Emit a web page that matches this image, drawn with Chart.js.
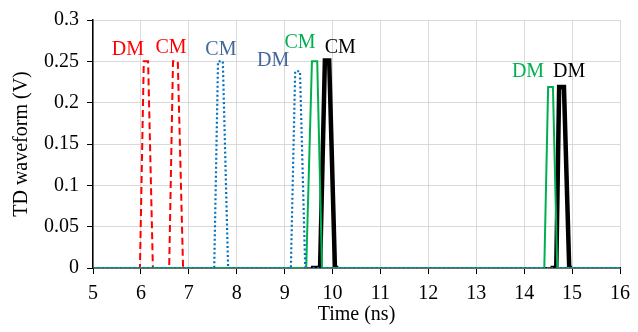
<!DOCTYPE html>
<html lang="en">
<head>
  <meta charset="UTF-8">
  <title>TD waveform</title>
  <script src="https://cdn.jsdelivr.net/npm/chart.js"></script>
  <style>
    body {
      margin: 0;
      padding: 0;
      background: #fff;
    }
    .chart-box {
      width: 638px;
      height: 332px;
    }
  </style>
</head>
<body>
  <div class="chart-box">
    <canvas id="waveChart"></canvas>
  </div>

  <script>
    // time (ns) / voltage (V) pairs
    const redTime = [5, 5.98, 6.06, 6.15, 6.25, 6.59, 6.67, 6.77, 6.88, 16];
    const redVolt = [0, 0, 0.25, 0.25, 0, 0, 0.25, 0.25, 0, 0];

    const blueTime = [5, 7.53, 7.61, 7.71, 7.82, 9.13, 9.22, 9.32, 9.43, 16];
    const blueVolt = [0, 0, 0.25, 0.25, 0, 0, 0.238, 0.238, 0, 0];

    const greenTime = [5, 9.45, 9.57, 9.68, 9.78, 14.42, 14.5, 14.6, 14.69, 16];
    const greenVolt = [0, 0, 0.25, 0.25, 0, 0, 0.219, 0.219, 0, 0];

    // black trace only shows near its own pulses (null = gap)
    const blackTime = [9.55, 9.74, 9.84, 9.93, 10.05, 10.12, 12, 14.55, 14.67, 14.73, 14.83, 14.94, 15.0];
    const blackVolt = [0, 0, 0.251, 0.251, 0, 0, null, 0, 0, 0.219, 0.219, 0, 0];

    const xTicks = [5, 6, 7, 8, 9, 10, 11, 12, 13, 14, 15, 16];
    const yTicks = [0, 0.05, 0.1, 0.15, 0.2, 0.25, 0.3];

    // pulse labels
    const labelText = ["DM", "CM", "CM", "DM", "CM", "CM", "DM", "DM"];
    const labelTime = [5.73, 6.63, 7.67, 8.76, 9.32, 10.16, 14.08, 14.94];
    const labelVolt = [0.264, 0.267, 0.264, 0.251, 0.272, 0.267, 0.237, 0.237];
    const labelColor = ["#ff0000", "#ff0000", "#44689a", "#44689a", "#00b050", "#000000", "#00b050", "#000000"];

    const serif = "'Liberation Serif', 'Times New Roman', serif";

    function pairs(xs, ys) {
      return xs.map((x, i) => ({ x: x, y: ys[i] }));
    }

    const pulseLabels = {
      id: "pulseLabels",
      afterDatasetsDraw(chart) {
        const ctx = chart.ctx;
        const xs = chart.scales.x;
        const ys = chart.scales.y;
        ctx.save();
        ctx.font = "20px " + serif;
        ctx.textAlign = "center";
        ctx.textBaseline = "middle";
        labelText.forEach((t, i) => {
          ctx.fillStyle = labelColor[i];
          ctx.fillText(t, xs.getPixelForValue(labelTime[i]), ys.getPixelForValue(labelVolt[i]));
        });
        ctx.restore();
      }
    };

    const ctx = document.getElementById("waveChart").getContext("2d");
    new Chart(ctx, {
      type: "line",
      data: {
        datasets: [
          {
            label: "red",
            data: pairs(redTime, redVolt),
            borderColor: "#ff0000",
            borderWidth: 2,
            borderDash: [7, 4],
            order: 4
          },
          {
            label: "black",
            data: pairs(blackTime, blackVolt),
            borderColor: "#000000",
            borderWidth: 4.5,
            spanGaps: false,
            order: 3
          },
          {
            label: "green",
            data: pairs(greenTime, greenVolt),
            borderColor: "#00b050",
            borderWidth: 2,
            order: 2
          },
          {
            label: "blue",
            data: pairs(blueTime, blueVolt),
            borderColor: "#0070c0",
            borderWidth: 2.2,
            borderDash: [2, 2.5],
            order: 1
          }
        ]
      },
      options: {
        responsive: true,
        maintainAspectRatio: false,
        animation: false,
        elements: {
          point: { radius: 0 },
          line: { tension: 0, fill: false }
        },
        layout: {
          padding: { top: 17, right: 18, left: 0, bottom: 0 }
        },
        plugins: {
          legend: { display: false },
          tooltip: { enabled: false }
        },
        scales: {
          x: {
            type: "linear",
            min: 5,
            max: 16,
            afterBuildTicks: (s) => { s.ticks = xTicks.map(v => ({ value: v })); },
            afterFit: (s) => { s.height = 64; },
            grid: {
              color: "#d9d9d9",
              tickColor: "#000",
              tickLength: 6,
              lineWidth: 1
            },
            border: { color: "#000", width: 1.5 },
            ticks: {
              color: "#000",
              font: { family: serif, size: 20 },
              padding: 8,
              maxRotation: 0
            },
            title: {
              display: true,
              text: "Time (ns)",
              color: "#000",
              font: { family: serif, size: 20 },
              padding: { top: 0, bottom: 5 }
            }
          },
          y: {
            type: "linear",
            min: 0,
            max: 0.3,
            afterBuildTicks: (s) => { s.ticks = yTicks.map(v => ({ value: v })); },
            afterFit: (s) => { s.width = 93; },
            grid: {
              color: "#d9d9d9",
              tickColor: "#000",
              tickLength: 6,
              lineWidth: 1
            },
            border: { color: "#000", width: 1.5 },
            ticks: {
              color: "#000",
              font: { family: serif, size: 20 },
              padding: 8,
              callback: (v) => String(Math.round(v * 100) / 100)
            },
            title: {
              display: true,
              text: "TD waveform (V)",
              color: "#000",
              font: { family: serif, size: 20 },
              padding: { top: 10, bottom: 0 }
            }
          }
        }
      },
      plugins: [pulseLabels]
    });
  </script>
</body>
</html>
